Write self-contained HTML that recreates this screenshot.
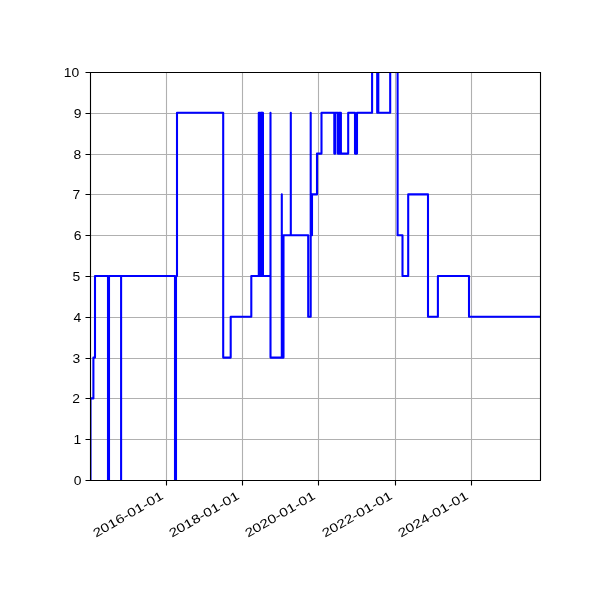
<!DOCTYPE html><html><head><meta charset="utf-8"><style>
html,body{margin:0;padding:0;background:#fff;width:600px;height:600px;overflow:hidden;position:relative}
text{font-family:"Liberation Sans",sans-serif;font-size:13.9px;fill:#000}
</style></head><body>
<svg width="600" height="600" style="position:absolute;left:0;top:0">
<rect width="600" height="600" fill="#fff"/>
<path d="M166.5 72V480 M242.5 72V480 M318.5 72V480 M395.5 72V480 M471.5 72V480 M90 113.5H540 M90 154.5H540 M90 194.5H540 M90 235.5H540 M90 276.5H540 M90 317.5H540 M90 358.5H540 M90 398.5H540 M90 439.5H540" stroke="#b0b0b0" stroke-width="1.11" fill="none"/>
<defs><clipPath id="ax"><rect x="90" y="72" width="450" height="408"/></clipPath></defs>
<path d="M90.5,480 V398.4 H93.4 V357.6 H95 V276 H108 V480 H109 V276 H121.1 V480 V276 H175 V480 H176 V276 H177 V112.8 H223.2 V357.6 H230.7 V316.8 H251.3 V276 H258.8 V112.8 H259.8 V276 H260.8 V112.8 H261.8 V276 H262 V112.8 H262.96 V276 H270.5 V112.8 V357.6 H281.8 V194.4 V357.6 H283.5 V235.2 H290.8 V112.8 V235.2 H308.2 V316.8 H310.7 V112.8 V235.2 H312 V194.4 H317 V153.6 H321.5 V112.8 H334.3 V153.6 H335.2 V112.8 H337.8 V153.6 H338.8 V112.8 H340 V153.6 H340.8 V112.8 H340.9 V153.6 H348.2 V112.8 H355 V153.6 H357 V112.8 H372.1 V71 H377.2 V112.8 H377.5 V71 H378.3 V112.8 H390.2 V71 H397.6 V235.2 H402.5 V276 H408.2 V194.4 H428 V316.8 H437.9 V276 H469 V316.8 H540" stroke="#0000ff" stroke-width="2.08" fill="none" stroke-linejoin="round" stroke-linecap="butt" clip-path="url(#ax)"/>
<path d="M90.5 72V480.5M540.5 72V480.5M90 72.5H541M90 480.5H541" stroke="#000" stroke-width="1.11" fill="none"/>
<path d="M166.5 480.5V485.5 M242.5 480.5V485.5 M318.5 480.5V485.5 M395.5 480.5V485.5 M471.5 480.5V485.5 M85.5 72.5H90.5 M85.5 113.5H90.5 M85.5 154.5H90.5 M85.5 194.5H90.5 M85.5 235.5H90.5 M85.5 276.5H90.5 M85.5 317.5H90.5 M85.5 358.5H90.5 M85.5 398.5H90.5 M85.5 439.5H90.5 M85.5 480.5H90.5" stroke="#000" stroke-width="1.11" fill="none"/>
</svg>
<svg width="600" height="600" style="position:absolute;left:0;top:0;will-change:transform">
<text transform="translate(164.2,498.3) rotate(-30) scale(1.11,0.88)" text-anchor="end">2016-01-01</text>
<text transform="translate(240.2,498.3) rotate(-30) scale(1.11,0.88)" text-anchor="end">2018-01-01</text>
<text transform="translate(316.2,498.3) rotate(-30) scale(1.11,0.88)" text-anchor="end">2020-01-01</text>
<text transform="translate(393.2,498.3) rotate(-30) scale(1.11,0.88)" text-anchor="end">2022-01-01</text>
<text transform="translate(469.2,498.3) rotate(-30) scale(1.11,0.88)" text-anchor="end">2024-01-01</text>
<text transform="translate(79.1,76.9) scale(1,0.88)" text-anchor="end">10</text>
<text transform="translate(81.5,117.9) scale(1,0.88)" text-anchor="end">9</text>
<text transform="translate(81.19999999999999,158.9) scale(1,0.88)" text-anchor="end">8</text>
<text transform="translate(80.3,198.9) scale(1,0.88)" text-anchor="end">7</text>
<text transform="translate(81.39999999999999,239.9) scale(1,0.88)" text-anchor="end">6</text>
<text transform="translate(80.19999999999999,280.9) scale(1,0.88)" text-anchor="end">5</text>
<text transform="translate(81.19999999999999,321.9) scale(1,0.88)" text-anchor="end">4</text>
<text transform="translate(80.3,362.9) scale(1,0.88)" text-anchor="end">3</text>
<text transform="translate(80.1,402.9) scale(1,0.88)" text-anchor="end">2</text>
<text transform="translate(81.19999999999999,443.9) scale(1,0.88)" text-anchor="end">1</text>
<text transform="translate(81.39999999999999,484.9) scale(1,0.88)" text-anchor="end">0</text>
</svg>
</body></html>
